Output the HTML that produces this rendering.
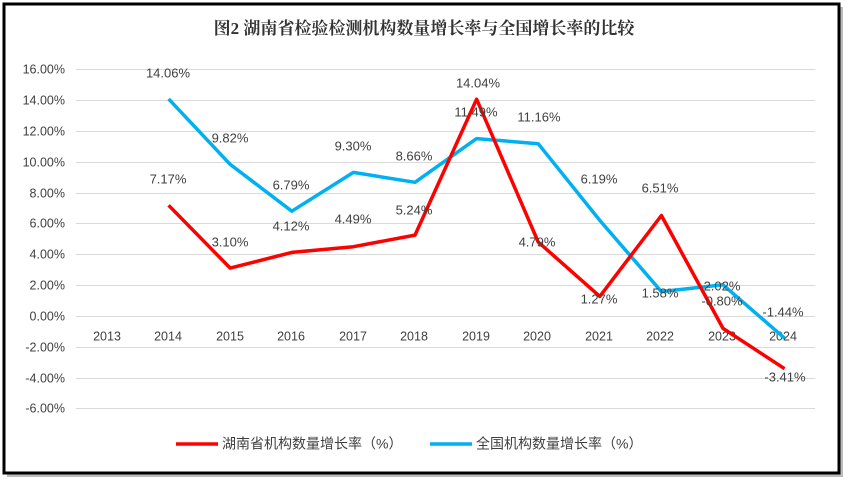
<!DOCTYPE html>
<html><head><meta charset="utf-8"><style>
html,body{margin:0;padding:0;background:#fff;}
svg{display:block;}
text{font-family:"Liberation Sans","Noto Sans CJK SC",sans-serif;fill:#404040;}
</style></head><body>
<svg width="849" height="485" viewBox="0 0 849 485">
<rect x="7" y="7" width="836" height="470" fill="#bbb"/>
<rect x="4" y="4" width="835" height="469" fill="#fff" stroke="#000" stroke-width="3"/>
<text x="424" y="34" text-anchor="middle" font-size="17" font-weight="bold" style="fill:#333;font-family:'Liberation Serif','Noto Serif CJK SC',serif">图2 湖南省检验检测机构数量增长率与全国增长率的比较</text>
<g stroke="#d9d9d9" stroke-width="1">
<line x1="76" x2="815" y1="69.5" y2="69.5"/><line x1="76" x2="815" y1="100.5" y2="100.5"/>
<line x1="76" x2="815" y1="131.5" y2="131.5"/><line x1="76" x2="815" y1="162.5" y2="162.5"/>
<line x1="76" x2="815" y1="193.5" y2="193.5"/><line x1="76" x2="815" y1="223.5" y2="223.5"/>
<line x1="76" x2="815" y1="254.5" y2="254.5"/><line x1="76" x2="815" y1="285.5" y2="285.5"/>
<line x1="76" x2="815" y1="316.5" y2="316.5"/><line x1="76" x2="815" y1="347.5" y2="347.5"/>
<line x1="76" x2="815" y1="378.5" y2="378.5"/><line x1="76" x2="815" y1="408.5" y2="408.5"/>
</g>
<g font-size="12.5" text-anchor="end" dominant-baseline="middle">
<text x="65" y="70">16.00%</text><text x="65" y="101">14.00%</text><text x="65" y="132">12.00%</text>
<text x="65" y="163">10.00%</text><text x="65" y="194">8.00%</text><text x="65" y="224">6.00%</text>
<text x="65" y="255">4.00%</text><text x="65" y="286">2.00%</text><text x="65" y="317">0.00%</text>
<text x="65" y="348">-2.00%</text><text x="65" y="379">-4.00%</text><text x="65" y="409">-6.00%</text>
</g>
<g font-size="12.5" text-anchor="middle" dominant-baseline="middle">
<text x="107" y="337">2013</text><text x="168" y="337">2014</text><text x="230" y="337">2015</text>
<text x="291" y="337">2016</text><text x="353" y="337">2017</text><text x="414" y="337">2018</text>
<text x="476" y="337">2019</text><text x="537" y="337">2020</text><text x="599" y="337">2021</text>
<text x="660" y="337">2022</text><text x="722" y="337">2023</text><text x="783" y="337">2024</text>
</g>
<polyline fill="none" stroke="#00b0f0" stroke-width="3.5" stroke-linejoin="round" points="168.6,98.9 230.2,164.4 291.8,211.2 353.4,172.4 415,182.3 476.6,138.6 538.2,143.7 599.8,220.4 661.4,291.6 723,284.8 784.6,338.2"/>
<polyline fill="none" stroke="#ff0000" stroke-width="3.5" stroke-linejoin="round" points="168.6,205.3 230.2,268.1 291.8,252.4 353.4,246.7 415,235.1 476.6,99.2 538.2,242 599.8,296.4 661.4,215.5 723,328.4 784.6,368.7"/>
<g font-size="13" text-anchor="middle" dominant-baseline="middle">
<text x="168" y="74">14.06%</text><text x="230" y="139">9.82%</text><text x="291" y="186">6.79%</text>
<text x="353" y="147">9.30%</text><text x="414" y="157">8.66%</text><text x="476" y="113">11.49%</text>
<text x="539" y="118">11.16%</text><text x="599" y="180">6.19%</text><text x="660" y="294">1.58%</text>
<text x="722" y="287">2.02%</text><text x="783" y="313">-1.44%</text>
<text x="168" y="180">7.17%</text><text x="230" y="243">3.10%</text><text x="291" y="227">4.12%</text>
<text x="353" y="220">4.49%</text><text x="414" y="211">5.24%</text><text x="478" y="84">14.04%</text>
<text x="537" y="243">4.79%</text><text x="599" y="300">1.27%</text><text x="660" y="189">6.51%</text>
<text x="722" y="302">-0.80%</text><text x="785" y="378">-3.41%</text>
</g>
<line x1="176" x2="218" y1="444" y2="444" stroke="#ff0000" stroke-width="3.5"/>
<text x="222" y="445" font-size="14" dominant-baseline="middle">湖南省机构数量增长率（%）</text>
<line x1="430" x2="472" y1="444" y2="444" stroke="#00b0f0" stroke-width="3.5"/>
<text x="476" y="445" font-size="14" dominant-baseline="middle">全国机构数量增长率（%）</text>
</svg>
</body></html>
